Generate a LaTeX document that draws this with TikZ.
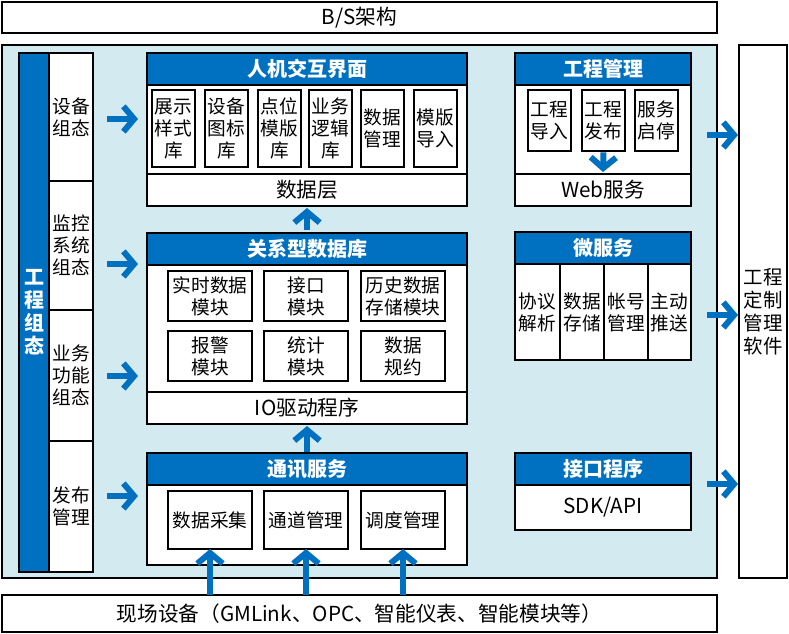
\documentclass[tikz,border=0pt]{standalone}
\usepackage{fontspec}
\setmainfont{Noto Sans CJK SC}
\usetikzlibrary{calc,arrows.meta}
\definecolor{jblue}{HTML}{0070C0}
\definecolor{jpanel}{HTML}{D3EAF0}

\begin{document}
\begin{tikzpicture}[x=0.75pt,y=-0.75pt]
		\tikzstyle{every node}=[font=\fontsize{14pt}{16.5pt}\selectfont, inner sep=0pt, outer sep=0pt, align=center]
		\tikzstyle{sz}=[minimum width=#1*0.75pt]
		\tikzstyle{ht}=[minimum height=#1*0.75pt]
		\tikzstyle{cell}=[draw=black, line width=0.8pt, fill=white]
		\tikzstyle{titlebar}=[draw=black, line width=0.8pt, fill=jblue, text=white, font=\fontsize{15pt}{17.25pt}\selectfont\bfseries]
		\tikzstyle{layer}=[cell, font=\fontsize{15.5pt}{18pt}\selectfont]
		\tikzstyle{barrow}=[draw=jblue, line width=4.5pt, -{Straight Barb[length=8pt,width=19pt]}]
		
		\useasboundingbox (0,0) rectangle (789,634);
		
		\node[layer, sz=715, ht=31] (bs) at (359.5,17.5) {B/S架构};
		\node[cell, fill=jpanel, sz=715, ht=533] (panel) at (359.5,311.5) {};
		\node[cell, sz=48, ht=533, font=\fontsize{14.6pt}{17.25pt}\selectfont] (soft) at (763,311.5) {工程\\定制\\管理\\软件};
		\node[layer, sz=715, ht=37] (field) at (359.5,613.5) {现场设备（GMLink、OPC、智能仪表、智能模块等）};
		
		\node[titlebar, sz=30, ht=519] (gczt) at (34,312.5) {工\\程\\组\\态};
		\node[cell, sz=44, ht=128] (rowA) at (71,117) {设备\\组态};
		\node[cell, sz=44, ht=129] (rowB) at (71,245.5) {监控\\系统\\组态};
		\node[cell, sz=44, ht=131] (rowC) at (71,375.5) {业务\\功能\\组态};
		\node[cell, sz=44, ht=131] (rowD) at (71,506.5) {发布\\管理};
		
		\node[titlebar, sz=320, ht=32] (hmiT) at (307,69) {人机交互界面};
		\node[cell, sz=320, ht=89] (hmiB) at (307,129.5) {};
		\node[layer, sz=320, ht=32] (hmiL) at (307,190) {数据层};
		\node[cell, sz=43, ht=77] (hmia) at (173.5,128.5) {展示\\样式\\库};
		\node[cell, sz=43, ht=77] (hmib) at (226.5,128.5) {设备\\图标\\库};
		\node[cell, sz=43, ht=77] (hmic) at (279.5,128.5) {点位\\模版\\库};
		\node[cell, sz=43, ht=77] (hmid) at (330.5,128.5) {业务\\逻辑\\库};
		\node[cell, sz=43, ht=77] (hmie) at (382.5,128.5) {数据\\管理};
		\node[cell, sz=43, ht=77] (hmif) at (435.5,128.5) {模版\\导入};
		
		\node[titlebar, sz=176, ht=32] (gcT) at (603,69) {工程管理};
		\node[cell, sz=176, ht=89] (gcB) at (603,129.5) {};
		\node[layer, sz=176, ht=32] (web) at (603,190) {Web服务};
		\node[cell, sz=43, ht=61] (gca) at (549.5,120.5) {工程\\导入};
		\node[cell, sz=43, ht=61] (gcb) at (603.5,120.5) {工程\\发布};
		\node[cell, sz=43, ht=61] (gcc) at (656.5,120.5) {服务\\启停};
		
		\node[titlebar, sz=320, ht=32] (dbT) at (307,249) {关系型数据库};
		\node[cell, sz=320, ht=127] (dbB) at (307,328.5) {};
		\node[layer, sz=320, ht=32] (io) at (307,408) {IO驱动程序};
		\node[cell, sz=84, ht=50] (dba) at (210,296) {实时数据\\模块};
		\node[cell, sz=84, ht=50] (dbb) at (306,296) {接口\\模块};
		\node[cell, sz=84, ht=50] (dbc) at (403,296) {历史数据\\存储模块};
		\node[cell, sz=84, ht=50] (dbd) at (210,356) {报警\\模块};
		\node[cell, sz=84, ht=50] (dbe) at (306,356) {统计\\模块};
		\node[cell, sz=84, ht=50] (dbf) at (403,356) {数据\\规约};
		
		\node[titlebar, sz=176, ht=32] (msT) at (603,248) {微服务};
		\node[cell, sz=45, ht=96] (msa) at (537.5,312) {协议\\解析};
		\node[cell, sz=44, ht=96] (msb) at (582,312) {数据\\存储};
		\node[cell, sz=44, ht=96] (msc) at (626,312) {帐号\\管理};
		\node[cell, sz=43, ht=96] (msd) at (669.5,312) {主动\\推送};
		
		\node[titlebar, sz=320, ht=32] (txT) at (307,469) {通讯服务};
		\node[cell, sz=320, ht=80] (txB) at (307,525) {};
		\node[cell, sz=84, ht=58] (txa) at (210,520) {数据采集};
		\node[cell, sz=84, ht=58] (txb) at (306,520) {通道管理};
		\node[cell, sz=84, ht=58] (txc) at (403,520) {调度管理};
		
		\node[titlebar, sz=176, ht=32] (apiT) at (603,469) {接口程序};
		\node[layer, sz=176, ht=45] (apiB) at (603,507.5) {SDK/API};
		
		% arrows
		\draw[barrow] ($(rowA.east)+(14,2)$) -- ($(rowA.east -| hmiB.west)+(-9,2)$);
		\draw[barrow] ($(rowB.east)+(14,18.5)$) -- ($(rowB.east -| dbB.west)+(-9,18.5)$);
		\draw[barrow] ($(rowC.east)+(14,0.5)$) -- ($(rowC.east -| dbB.west)+(-9,0.5)$);
		\draw[barrow] ($(rowD.east)+(14,-10.5)$) -- ($(rowD.east -| txB.west)+(-9,-10.5)$);
		
		\draw[barrow] ($(gcB.east)+(16,5.5)$) -- ($(gcB.east -| soft.west)+(-1,5.5)$);
		\draw[barrow] ($(msd.east)+(16,3)$) -- ($(msd.east -| soft.west)+(-1,3)$);
		\draw[barrow] ($(apiT.east)+(16,15)$) -- ($(apiT.east -| soft.west)+(-1,15)$);
		
		\draw[barrow, shorten <=1pt, shorten >=1.5pt] (gcb.south) -- (web.north);
		\draw[barrow, shorten <=2pt, shorten >=1.5pt] (dbT.north) -- (hmiL.south);
		\draw[barrow, shorten <=1pt, shorten >=1.5pt] (txT.north) -- (io.south);
		
		\draw[barrow] (field.north -| txa.south) -- (txa.south);
		\draw[barrow] (field.north -| txb.south) -- (txb.south);
		\draw[barrow] (field.north -| txc.south) -- (txc.south);
		
	\end{tikzpicture}
\end{document}
